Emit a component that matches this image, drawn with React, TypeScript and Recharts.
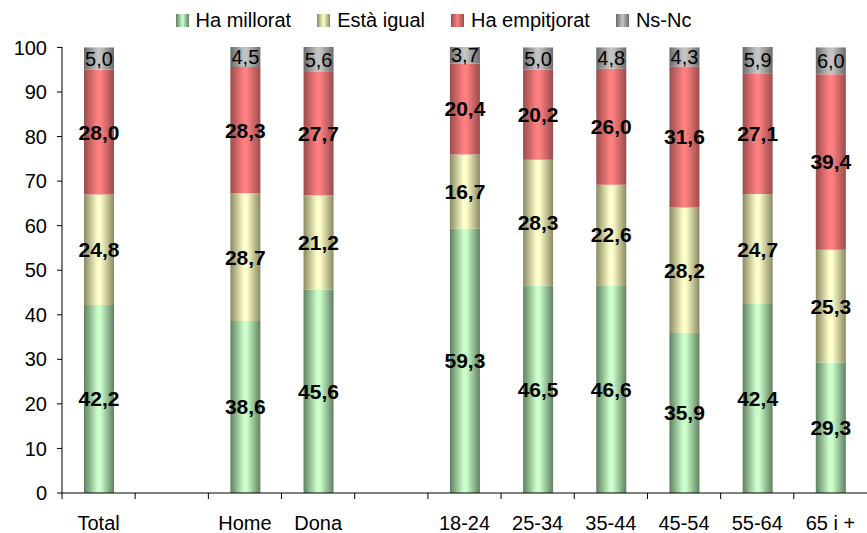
import React from 'react';
import { BarChart, Bar, XAxis, YAxis, LabelList } from 'recharts';

// categories (blank slots separate the groups)
const categories = ['Total', '', 'Home', 'Dona', ' ', '18-24', '25-34', '35-44', '45-54', '55-64', '65 i +'];
const haMillorat = [42.2, null, 38.6, 45.6, null, 59.3, 46.5, 46.6, 35.9, 42.4, 29.3];
const estaIgual = [24.8, null, 28.7, 21.2, null, 16.7, 28.3, 22.6, 28.2, 24.7, 25.3];
const haEmpitjorat = [28.0, null, 28.3, 27.7, null, 20.4, 20.2, 26.0, 31.6, 27.1, 39.4];
const nsNc = [5.0, null, 4.5, 5.6, null, 3.7, 5.0, 4.8, 4.3, 5.9, 6.0];
const yTicks = [0, 10, 20, 30, 40, 50, 60, 70, 80, 90, 100];

const series = [
  { key: 'millorat', name: 'Ha millorat', edge: '#5f805f', mid: '#ccffcc' },
  { key: 'igual', name: 'Està igual', edge: '#8a8a62', mid: '#ffffcc' },
  { key: 'empitjorat', name: 'Ha empitjorat', edge: '#9a4c4c', mid: '#ff8080' },
  { key: 'nsnc', name: 'Ns-Nc', edge: '#6a6a6a', mid: '#c4c4c4' },
];

const chartData = categories.map((name, i) => ({
  name,
  millorat: haMillorat[i],
  igual: estaIgual[i],
  empitjorat: haEmpitjorat[i],
  nsnc: nsNc[i],
}));

const FONT = '"Liberation Sans", Arial, sans-serif';
const fmt = (v: any) => (v == null ? '' : Number(v).toFixed(1).replace('.', ','));

const SLOT = 805 / categories.length;

const XTick = (props: any) => {
  const { x, y, payload } = props;
  const bx = x - SLOT / 2;
  return (
    <g>
      <line x1={bx} x2={bx} y1={y - 8} y2={y - 2} stroke="#000" />
      <text x={x} y={y + 29} textAnchor="middle" fontSize={20} fontFamily={FONT} fill="#000">
        {payload.value.trim()}
      </text>
    </g>
  );
};

const LegendContent = () => (
  <div
    style={{
      display: 'flex',
      justifyContent: 'center',
      fontFamily: FONT,
      fontSize: 20,
      lineHeight: '24px',
      color: '#000',
      gap: 26,
    }}
  >
    {series.map((s) => (
      <div key={s.key} style={{ display: 'flex', alignItems: 'center', gap: 7 }}>
        <span
          style={{
            display: 'inline-block',
            width: 13,
            height: 13,
            background: `linear-gradient(to right, ${s.edge}, ${s.mid} 50%, ${s.edge})`,
          }}
        />
        <span>{s.name}</span>
      </div>
    ))}
  </div>
);

export default function App() {
  return (
    <div style={{ position: 'absolute', left: 0, top: 0, width: 867, height: 533, background: '#fff' }}>
      <div style={{ position: 'absolute', left: 0, top: 8, width: 867 }}>
        <LegendContent />
      </div>
      <BarChart
        width={867}
        height={533}
        data={chartData}
        margin={{ top: 47, right: 0, left: 0, bottom: 0 }}
        barSize={30}
      >
        <defs>
          {series.map((s) => (
            <linearGradient key={s.key} id={`g-${s.key}`} x1="0" y1="0" x2="1" y2="0">
              <stop offset="0%" stopColor={s.edge} />
              <stop offset="45%" stopColor={s.mid} />
              <stop offset="55%" stopColor={s.mid} />
              <stop offset="100%" stopColor={s.edge} />
            </linearGradient>
          ))}
        </defs>
        <XAxis
          dataKey="name"
          interval={0}
          height={40}
          tickLine={false}
          axisLine={{ stroke: '#000' }}
          tick={<XTick />}
        />
        <YAxis
          domain={[0, 100]}
          ticks={yTicks}
          width={62}
          tickSize={5}
          tickMargin={10}
          interval={0}
          axisLine={{ stroke: '#000' }}
          tickLine={{ stroke: '#000' }}
          tick={{ fontSize: 20, fontFamily: FONT, fill: '#000' }}
        />
        {series.map((s, i) => (
          <Bar key={s.key} dataKey={s.key} stackId="a" fill={`url(#g-${s.key})`} isAnimationActive={false}>
            <LabelList
              dataKey={s.key}
              position="center"
              formatter={fmt}
              style={{
                fontSize: i === 3 ? 20 : 21,
                fontWeight: i === 3 ? 'normal' : 'bold',
                fontFamily: FONT,
                fill: '#000',
              }}
            />
          </Bar>
        ))}
      </BarChart>
    </div>
  );
}
